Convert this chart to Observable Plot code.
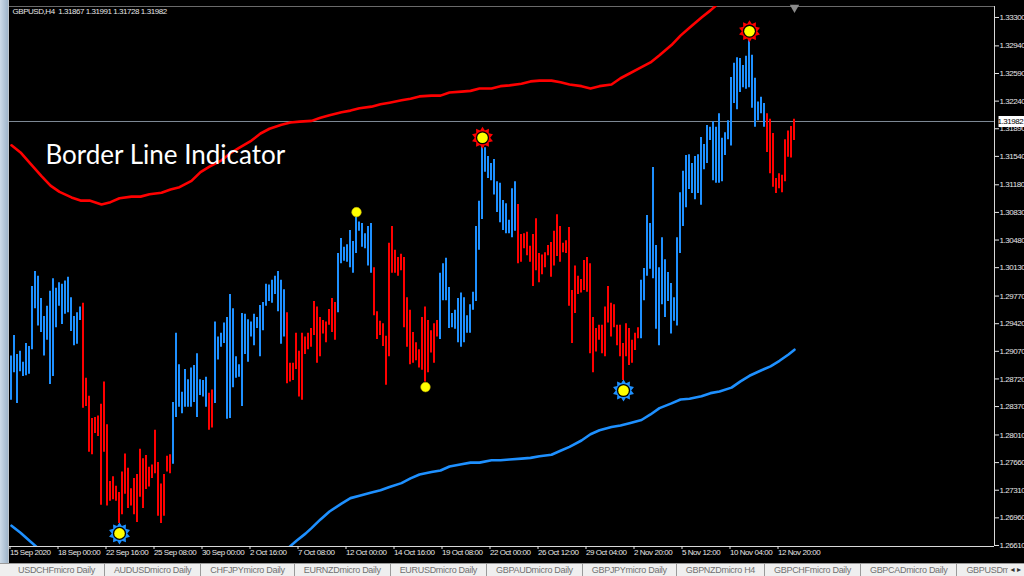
<!DOCTYPE html>
<html><head><meta charset="utf-8">
<script src="https://cdn.jsdelivr.net/npm/d3@7"></script>
<script src="https://cdn.jsdelivr.net/npm/@observablehq/plot@0.6"></script>
<style>
html,body{margin:0;padding:0;background:#000;width:1024px;height:576px;overflow:hidden}
#wrap{position:relative;width:1024px;height:576px}
#chart{position:absolute;left:0;top:0}
#chart svg{letter-spacing:-0.45px}
#leftbar{position:absolute;left:0;top:0;width:8px;height:563px;background:linear-gradient(90deg,#cddbe8,#9fb5ca);border-right:1px solid #bfc6cc}
#tabs{position:absolute;left:0;top:563px;width:1024px;height:13px;background:#efefef;border-top:1px solid #9a9a9a;display:flex;font:9px "Liberation Sans",Arial,sans-serif;letter-spacing:-0.3px;color:#707070;white-space:nowrap;overflow:hidden;line-height:13px}
.tab{padding:0 9px;border-right:1px solid #9a9a9a}
.tab:first-child{padding-left:18px}
#arrows{position:absolute;right:3px;top:564px;height:12px;font:8px "DejaVu Sans",sans-serif;color:#333;line-height:12px;background:#efefef;padding-left:2px}
</style></head>
<body><div id="wrap"><div id="chart"></div><div id="leftbar"></div><div id="tabs"></div><div id="arrows">&#x25C2; &#x25B8;</div></div>
<script>
const symbolName = "GBPUSD,H4";
const lastQuote = [1.31867, 1.31991, 1.31728, 1.31982];
const chartTitle = "Border Line Indicator";

const highs = [
1.2901,1.2927,1.2903,1.2907,1.2893,1.2917,1.2913,1.2989,1.3008,1.3002,
1.2974,1.2951,1.2964,1.2983,1.2999,1.2987,1.2994,1.2992,1.2996,1.3001,
1.2975,1.2951,1.2956,1.2963,1.2968,1.2873,1.2850,1.2822,1.2823,1.2825,
1.2840,1.2868,1.2814,1.2742,1.2748,1.2736,1.2728,1.2754,1.2777,1.2759,
1.2733,1.2746,1.2751,1.2783,1.2771,1.2775,1.2760,1.2763,1.2807,1.2766,
1.2739,1.2751,1.2774,1.2776,1.2842,1.2930,1.2890,1.2855,1.2884,1.2871,
1.2886,1.2889,1.2904,1.2871,1.2870,1.2874,1.2854,1.2858,1.2944,1.2925,
1.2930,1.2943,1.2950,1.2979,1.2961,1.2900,1.2890,
1.2955,1.2954,1.2947,1.2944,1.2954,1.2950,1.2965,1.2969,1.2992,1.2991,1.2997,1.3002,1.3008,1.2997,1.2985,
1.2956,1.2892,1.2892,1.2930,1.2907,1.2930,1.2925,1.2930,1.2936,1.2970,1.2963,1.2950,1.2946,1.2944,1.2960,1.2974,1.2969,
1.3031,1.3050,1.3039,1.3042,1.3060,1.3046,1.3077,1.3071,1.3069,1.3056,1.3065,1.3069,
1.3013,1.2957,1.2945,1.2942,1.2926,1.3044,1.3065,1.3035,1.3026,1.3030,1.3026,1.2975,1.2959,1.2931,1.2918,1.2909,1.2950,1.2963,1.2946,1.2933,1.2942,1.2946,
1.3006,1.3018,1.3025,1.2988,1.2955,1.2959,1.2974,1.2981,1.2975,1.2952,1.2966,1.2982,1.3065,1.3097,1.3170,1.3165,1.3154,1.3145,1.3150,1.3122,1.3120,1.3098,1.3094,1.3073,1.3113,1.3122,
1.3093,1.3055,1.3056,1.3058,1.3040,1.3055,1.3075,1.3031,1.3029,1.3032,1.3041,1.3045,1.3059,1.3080,1.3065,1.3044,1.3047,1.3064,1.2984,1.3015,1.3002,1.2998,1.3022,1.3026,1.3018,1.2950,1.2936,1.2940,1.2940,1.2963,1.2989,1.2968,1.2966,1.2940,1.2940,1.2917,1.2942,
1.2936,1.2921,1.2930,1.2937,
1.2997,1.3012,1.3079,1.3069,1.3140,1.3041,1.3013,1.3051,1.3023,1.3007,1.2993,1.2975,1.3051,1.3108,1.3135,1.3155,1.3156,1.3145,1.3154,1.3156,1.3178,1.3169,1.3193,1.3191,1.3198,1.3191,1.3208,1.3177,1.3184,1.3199,1.3254,1.3272,1.3279,1.3278,1.3269,1.3281,1.3305,1.3282,1.3253,1.3223,1.3229,1.3221,
1.3208,1.3201,1.3183,1.3126,1.3132,1.3130,1.3175,1.3186,1.3192,1.3201];

const lows = [
1.2845,1.2880,1.2841,1.2881,1.2875,1.2876,1.2878,1.2909,1.2961,1.2939,
1.2931,1.2901,1.2921,1.2865,1.2875,1.2937,1.2964,1.2941,1.2954,1.2956,
1.2932,1.2914,1.2916,1.2946,1.2835,1.2837,1.2779,1.2776,1.2803,1.2799,
1.2712,1.2779,1.2711,1.2717,1.2719,1.2717,1.2689,1.2700,1.2726,1.2708,
1.2711,1.2700,1.2690,1.2722,1.2708,1.2732,1.2735,1.2746,1.2752,1.2698,
1.2689,1.2698,1.2754,1.2752,1.2764,1.2823,1.2836,1.2828,1.2836,1.2836,
1.2836,1.2842,1.2823,1.2851,1.2849,1.2836,1.2807,1.2810,1.2841,1.2896,
1.2912,1.2917,1.2821,1.2822,1.2861,1.2873,1.2874,
1.2837,1.2903,1.2893,1.2925,1.2914,1.2936,1.2900,1.2933,1.2964,1.2970,1.2968,1.2979,1.2957,1.2916,1.2925,
1.2866,1.2868,1.2870,1.2884,1.2849,1.2845,1.2903,1.2909,1.2912,1.2927,1.2892,1.2900,1.2929,1.2918,1.2940,1.2931,1.2921,
1.2956,1.3018,1.3021,1.3020,1.3013,1.3006,1.3031,1.3059,1.3039,1.3037,1.3015,1.3006,
1.2952,1.2922,1.2927,1.2913,1.2864,1.2900,1.3006,1.3006,1.3002,1.3009,1.2937,1.2912,1.2890,1.2892,1.2895,1.2886,1.2883,1.2868,1.2880,1.2905,1.2892,1.2925,
1.2922,1.2971,1.2971,1.2936,1.2937,1.2935,1.2918,1.2912,1.2918,1.2930,1.2930,1.2959,1.2970,1.3035,1.3074,1.3134,1.3126,1.3123,1.3105,1.3083,1.3070,1.3060,1.3056,1.3056,1.3051,1.3059,
1.3018,1.3020,1.3037,1.3028,1.3020,1.2989,1.3009,1.2994,1.3004,1.3013,1.3028,1.3001,1.3015,1.3027,1.3020,1.3032,1.3031,1.2964,1.2917,1.2955,1.2979,1.2981,1.2984,1.2982,1.2904,1.2880,1.2906,1.2921,1.2904,1.2900,1.2943,1.2925,1.2937,1.2914,1.2900,1.2870,1.2900,
1.2889,1.2892,1.2908,1.2923,
1.2923,1.2971,1.3002,1.3011,1.2999,1.2935,1.2914,1.2966,1.2950,1.2970,1.2929,1.2945,1.2939,1.3031,1.3065,1.3089,1.3112,1.3107,1.3099,1.3107,1.3092,1.3137,1.3145,1.3174,1.3123,1.3120,1.3120,1.3122,1.3155,1.3175,1.3167,1.3221,1.3213,1.3235,1.3241,1.3239,1.3241,1.3215,1.3191,1.3199,1.3208,1.3191,
1.3159,1.3132,1.3115,1.3107,1.3113,1.3108,1.3122,1.3153,1.3152,1.3174];

// trend changes: bar index where a new colour run starts
const trendStart = [0, 24, 54, 66, 68, 92, 109, 121, 143, 169, 210, 252];
const trendDir   = ["up","down","up","down","up","down","up","down","up","down","up","down"];

const upperIdx = [0,3,6,10,13,16,20,23,26,30,33,36,40,43,46,50,53,56,60,63,66,70,73,76,80,83,86,90,93,96,100,103,106,110,113,116,120,123,126,130,133,136,140,143,146,150,153,156,160,163,166,170,173,176,180,183,186,190,193,196,200,203,206,210,213,216,220,223,226,230,233,236];
const upperBand = [1.3168,1.3159,1.3146,1.3129,1.3117,1.3109,1.3102,1.3098,1.3098,1.3093,1.3096,1.3101,1.3103,1.3103,1.3106,1.3108,1.3112,1.3115,1.3123,1.3134,1.3141,1.3149,1.3158,1.3165,1.3174,1.3183,1.3189,1.3194,1.3197,1.3198,1.3199,1.3203,1.3206,1.3210,1.3212,1.3215,1.3217,1.3220,1.3222,1.3225,1.3227,1.3230,1.3231,1.3231,1.3235,1.3236,1.3237,1.3240,1.3240,1.3243,1.3244,1.3246,1.3249,1.3250,1.3250,1.3248,1.3245,1.3243,1.3240,1.3243,1.3245,1.3253,1.3259,1.3267,1.3273,1.3282,1.3295,1.3307,1.3317,1.3330,1.3339,1.3349];

const lowerIdx = [0,3,6,9,50,92,95,98,100,103,106,110,113,116,120,123,126,130,133,136,140,143,146,150,153,156,160,163,166,170,173,176,180,183,186,190,193,196,200,203,206,210,213,216,220,223,226,230,233,236,240,243,246,250,253,256,259,261];
const lowerBand = [1.2686,1.2677,1.2667,1.2657,null,1.2657,1.2667,1.2676,1.2683,1.2694,1.2704,1.2714,1.2721,1.2724,1.2728,1.2731,1.2735,1.2740,1.2746,1.2751,1.2754,1.2756,1.2761,1.2764,1.2766,1.2766,1.2769,1.2769,1.2770,1.2771,1.2772,1.2774,1.2776,1.2781,1.2786,1.2794,1.2802,1.2807,1.2811,1.2813,1.2816,1.2820,1.2827,1.2835,1.2841,1.2846,1.2847,1.2850,1.2854,1.2856,1.2861,1.2869,1.2876,1.2883,1.2888,1.2895,1.2903,1.2909];

const highStarIdx = [157, 246];
const lowStarIdx = [36, 204];
const highDotIdx = [115];
const lowDotIdx = [138];

const yTicks = [1.33300,1.32940,1.32590,1.32240,1.31890,1.31540,1.31180,1.30830,1.30480,1.30130,1.29770,1.29420,1.29070,1.28720,1.28370,1.28010,1.27660,1.27310,1.26960,1.26610];
const timeTickIdx = [0,16,32,48,64,80,96,112,128,144,160,176,192,208,224,240,256];
const timeLabels = ["15 Sep 2020","18 Sep 00:00","22 Sep 16:00","25 Sep 08:00","30 Sep 00:00","2 Oct 16:00","7 Oct 08:00","12 Oct 00:00","14 Oct 16:00","19 Oct 08:00","22 Oct 00:00","26 Oct 12:00","29 Oct 04:00","2 Nov 20:00","5 Nov 12:00","10 Nov 04:00","12 Nov 20:00"];
const tabNames = ["USDCHFmicro Daily","AUDUSDmicro Daily","CHFJPYmicro Daily","EURNZDmicro Daily","EURUSDmicro Daily","GBPAUDmicro Daily","GBPJPYmicro Daily","GBPNZDmicro H4","GBPCHFmicro Daily","GBPCADmicro Daily","GBPUSDm"];

// build tables
const dirOf = i => { let d = trendDir[0]; trendStart.forEach((s,k)=>{ if (i >= s) d = trendDir[k]; }); return d; };
const bars = highs.map((h,i) => ({i, high:h, low:lows[i], dir:dirOf(i)}));
const upper = upperIdx.map((i,k) => ({i, v:upperBand[k]}));
const lower = lowerIdx.map((i,k) => ({i, v:lowerBand[k]}));
const pick = arr => arr.map(i => bars[i]);
const labelMap = new Map(timeTickIdx.map((t,k)=>[t, timeLabels[k]]));

const BLUE = "#1e90ff", RED = "#ff0000";
const xDom = [-2/3, 327 + 2/3];
const yDom = [1.26597, 1.33439];
const smallFont = '"Liberation Sans",Arial,sans-serif';

const sunburst = {
  draw(ctx, size) {
    const R = Math.sqrt(size / Math.PI), r = R * 0.7, n = 10;
    for (let k = 0; k < 2*n; k++) {
      const a = Math.PI * k / n - Math.PI/2, rad = k % 2 ? r : R;
      const px = rad*Math.cos(a), py = rad*Math.sin(a);
      k ? ctx.lineTo(px, py) : ctx.moveTo(px, py);
    }
    ctx.closePath();
  }
};

const chart = Plot.plot({
  width: 1024, height: 563,
  marginLeft: 9, marginRight: 30, marginTop: 6, marginBottom: 17,
  x: {domain: xDom},
  y: {domain: yDom},
  style: {background: "#000", color: "#e6e6e6", fontFamily: smallFont, fontSize: "8px"},
  marks: [
    Plot.ruleY([yDom[1]], {stroke: "#6a6a6a"}),
    Plot.ruleY([lastQuote[3]], {stroke: "#7f8a96", strokeWidth: 1}),
    Plot.line(upper, {x: "i", y: "v", stroke: RED, strokeWidth: 2.6, clip: true}),
    Plot.line(lower, {x: "i", y: "v", stroke: BLUE, strokeWidth: 2.6, clip: true}),
    Plot.ruleX(bars.filter(d => d.dir === "up"), {x: "i", y1: "low", y2: "high", stroke: BLUE, strokeWidth: 2, dx: -0.5}),
    Plot.ruleX(bars.filter(d => d.dir === "down"), {x: "i", y1: "low", y2: "high", stroke: RED, strokeWidth: 2, dx: -0.5}),
    // star signals
    Plot.dot(pick(highStarIdx), {x: "i", y: "high", dy: -6, symbol: sunburst, r: 11, fill: RED, stroke: "none"}),
    Plot.dot(pick(lowStarIdx), {x: "i", y: "low", dy: 10, symbol: sunburst, r: 11, fill: BLUE, stroke: "none"}),
    Plot.dot(pick(highStarIdx), {x: "i", y: "high", dy: -6, r: 6.6, fill: "#000"}),
    Plot.dot(pick(lowStarIdx), {x: "i", y: "low", dy: 10, r: 6.6, fill: "#000"}),
    Plot.dot(pick(highStarIdx), {x: "i", y: "high", dy: -6, r: 5.3, fill: "#ffff00"}),
    Plot.dot(pick(lowStarIdx), {x: "i", y: "low", dy: 10, r: 5.3, fill: "#ffff00"}),
    // plain dots
    Plot.dot(pick(highDotIdx), {x: "i", y: "high", dy: -5, r: 4.8, fill: "#ffff00", stroke: "#b8a800", strokeWidth: 0.6}),
    Plot.dot(pick(lowDotIdx), {x: "i", y: "low", dy: 5, r: 4.8, fill: "#ffff00", stroke: "#b8a800", strokeWidth: 0.6}),
    // frame lines
    Plot.ruleY([yDom[0]], {stroke: "#d8d8d8"}),
    Plot.ruleX([xDom[1]], {stroke: "#d8d8d8"}),
    Plot.dot([bars.length - 1], {x: d => d, frameAnchor: "top", symbol: "triangle", rotate: 180, r: 3.5, fill: "#8a8a8a", dy: 1}),
    // axes
    Plot.axisY(yTicks, {anchor: "right", tickSize: 4, tickPadding: 1, tickFormat: d => d.toFixed(5), label: null, color: "#e6e6e6", fontSize: 8}),
    Plot.axisX(timeTickIdx, {anchor: "bottom", tickSize: 3, tickPadding: 0, tickFormat: d => labelMap.get(d), textAnchor: "start", dx: -1.5, label: null, color: "#e6e6e6", fontSize: 8}),
    // current price box
    Plot.text([lastQuote[3]], {
      y: d => d, frameAnchor: "right", textAnchor: "start", dx: 3, text: d => d.toFixed(5), fill: "#000", fontSize: 8,
      render(index, scales, values, dims, context, next) {
        const g = next(index, scales, values, dims, context);
        const yy = scales.y(lastQuote[3]);
        const r = document.createElementNS("http://www.w3.org/2000/svg", "rect");
        r.setAttribute("x", dims.width - dims.marginRight + 1);
        r.setAttribute("y", yy - 5.5);
        r.setAttribute("width", 27);
        r.setAttribute("height", 11);
        r.setAttribute("fill", "#fff");
        g.insertBefore(r, g.firstChild);
        return g;
      }
    }),
    // header & title
    Plot.text([`${symbolName}\u2002${lastQuote.map(v => v.toFixed(5)).join(" ")}`], {frameAnchor: "top-left", dx: 3, dy: 5, textAnchor: "start", lineAnchor: "middle", fill: "#e6e6e6", fontSize: 8}),
    Plot.text([chartTitle], {
      frameAnchor: "top-left", dx: 36, dy: 149, textAnchor: "start", lineAnchor: "middle", fill: "#fff", fontSize: 26, fontFamily: "Lato, 'Open Sans', sans-serif",
      render(index, scales, values, dims, context, next) {
        const g = next(index, scales, values, dims, context);
        g.setAttribute("letter-spacing", "0");
        g.style.letterSpacing = "0px";
        return g;
      }
    })
  ]
});
document.getElementById("chart").appendChild(chart);

const tabs = document.getElementById("tabs");
tabNames.forEach(t => { const s = document.createElement("span"); s.className = "tab"; s.textContent = t; tabs.appendChild(s); });
</script></body></html>
